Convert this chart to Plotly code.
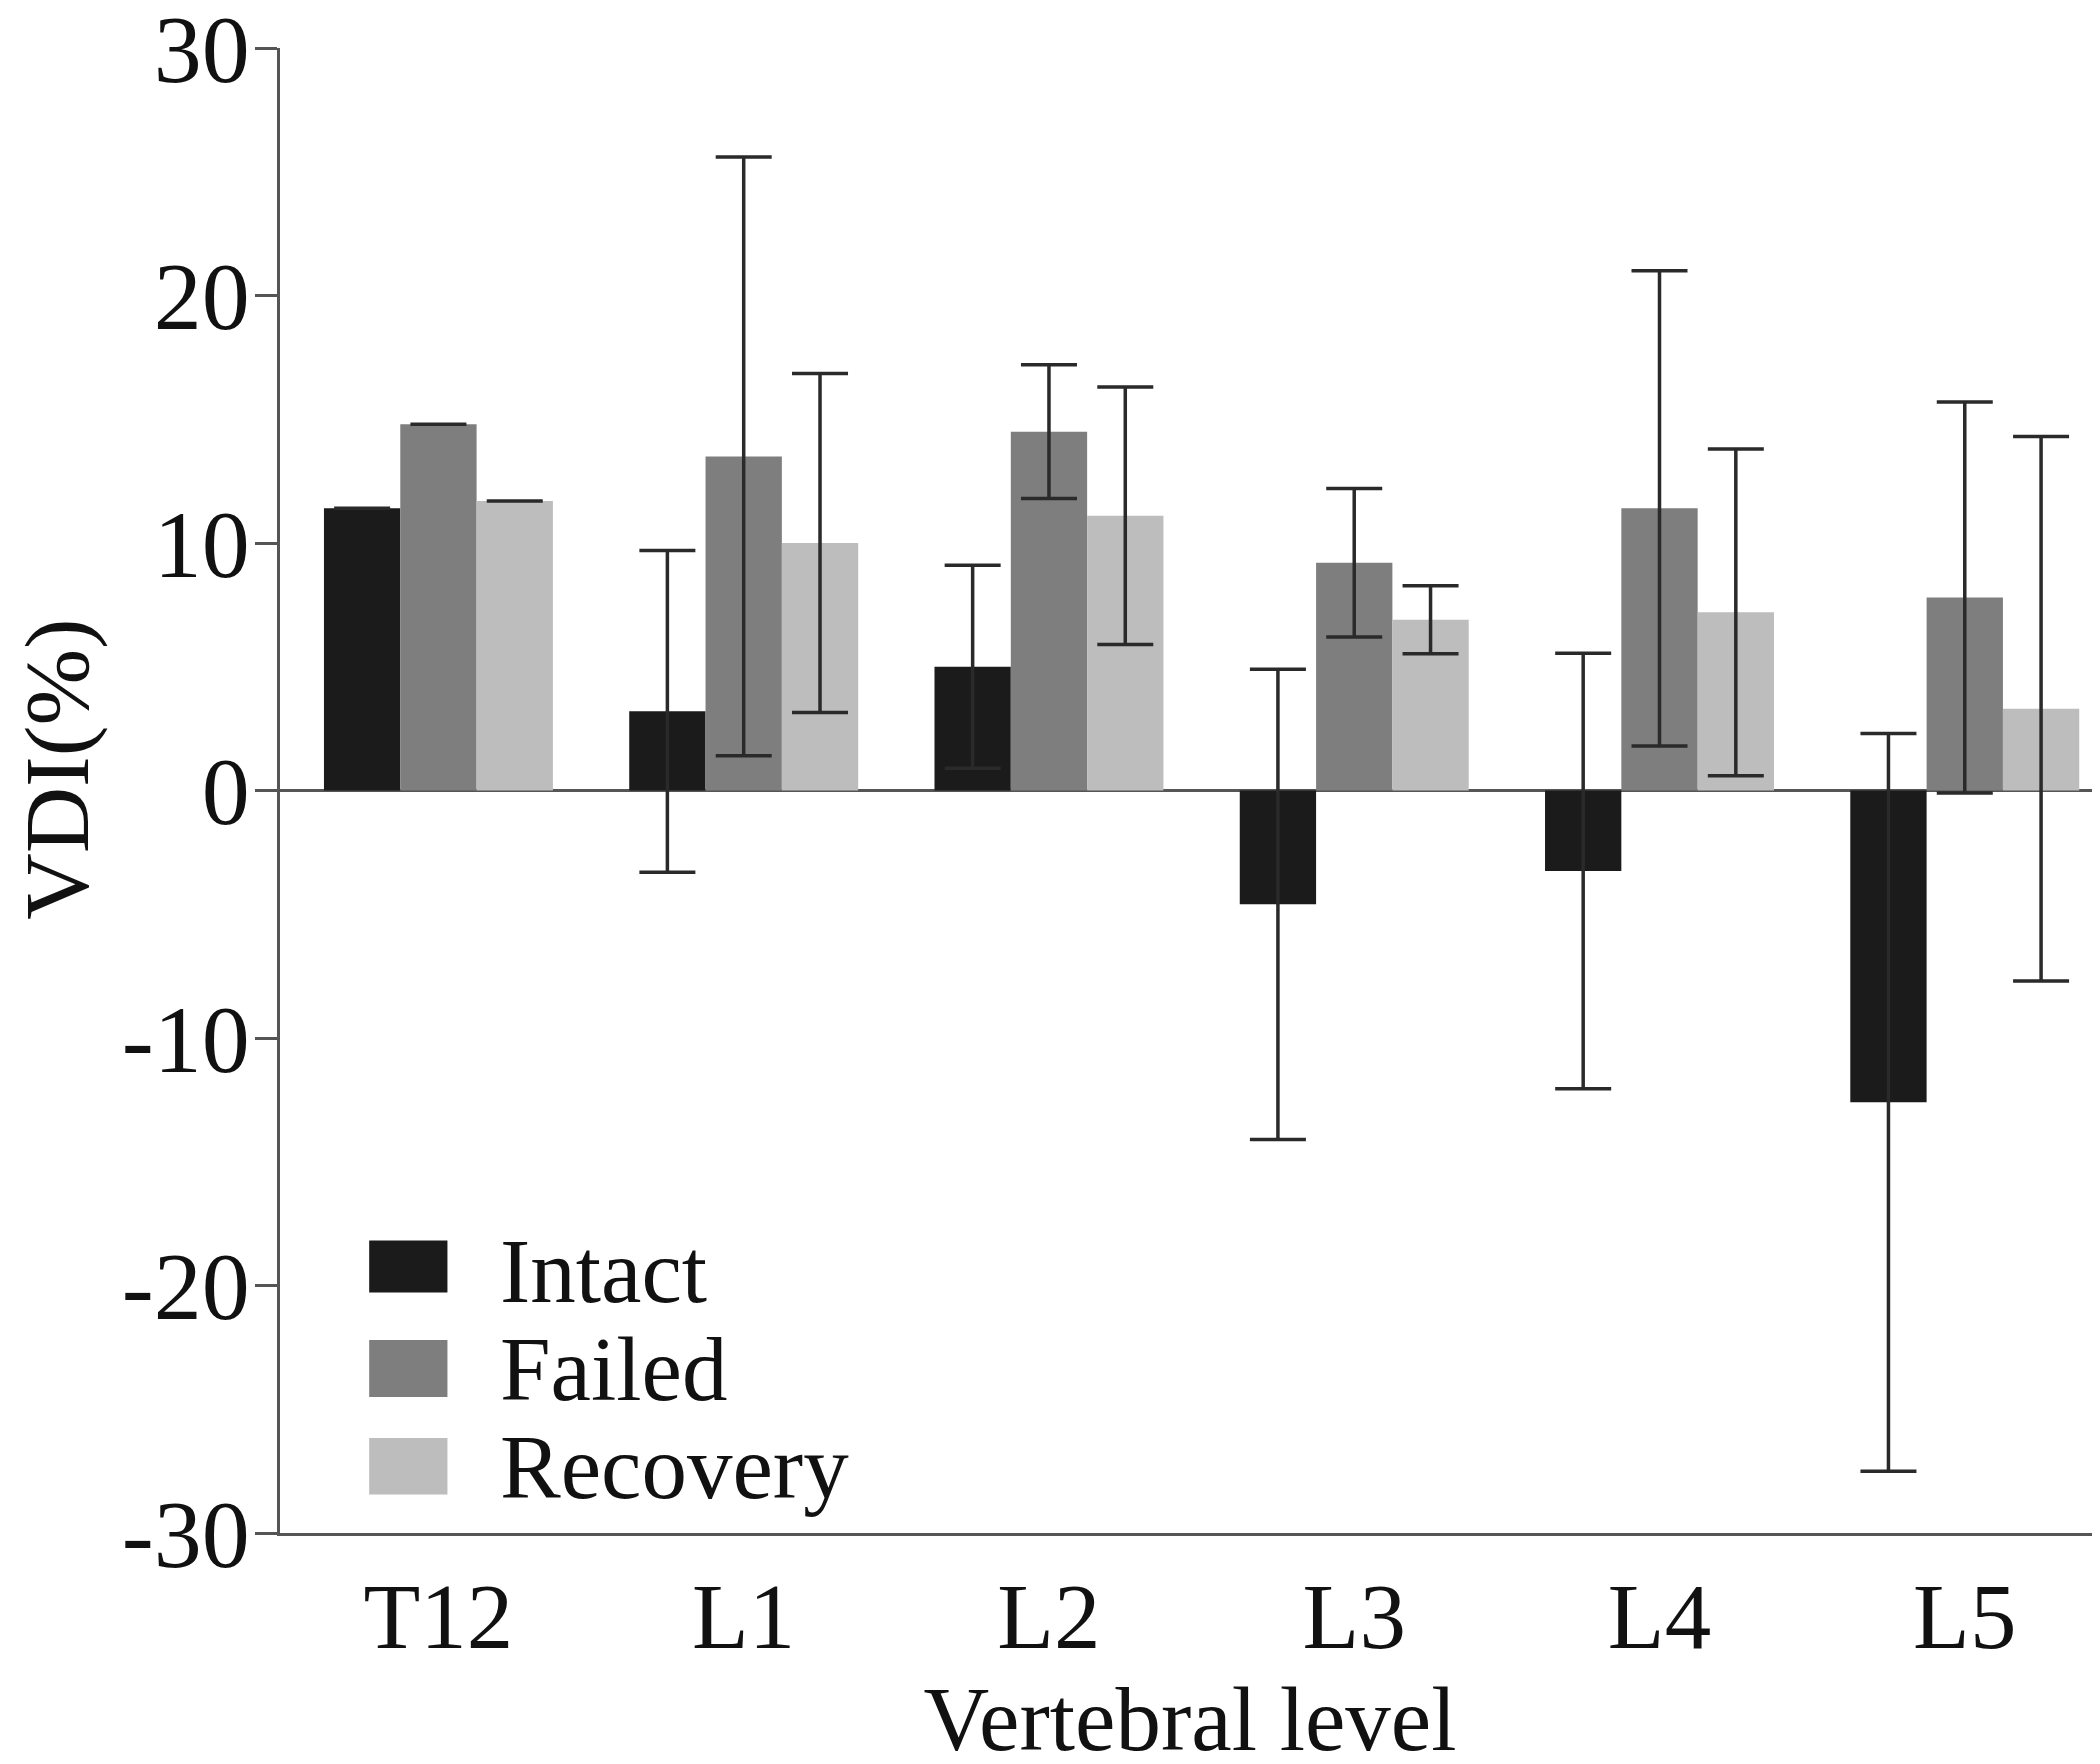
import plotly.graph_objects as go

levels = ["T12", "L1", "L2", "L3", "L4", "L5"]
intact = [11.4, 3.2, 5.0, -4.6, -3.25, -12.6]
intact_sd = [0.0, 6.5, 4.1, 9.5, 8.8, 14.9]
failed = [14.8, 13.5, 14.5, 9.2, 11.4, 7.8]
failed_sd = [0.0, 12.1, 2.7, 3.0, 9.6, 7.9]
recovery = [11.7, 10.0, 11.1, 6.9, 7.2, 3.3]
recovery_sd = [0.0, 6.85, 5.2, 1.37, 6.6, 11.0]

y_ticks = [-30, -20, -10, 0, 10, 20, 30]
y_tick_text = ["-30", "-20", "-10", "0", "10", "20", "30"]

series = [
    ("Intact", intact, intact_sd, "#1b1b1b"),
    ("Failed", failed, failed_sd, "#7e7e7e"),
    ("Recovery", recovery, recovery_sd, "#bdbdbd"),
]

FONT = "Liberation Serif"
fig = go.Figure()
for name, vals, sd, col in series:
    fig.add_trace(go.Bar(
        name=name, x=levels, y=vals,
        marker=dict(color=col, line=dict(width=0)),
        error_y=dict(type="data", array=sd, visible=True,
                     color="#2a2a2a", thickness=3.5, width=28),
        showlegend=False,
    ))

fig.update_layout(
    width=2100, height=1764,
    barmode="group", bargap=0.25, bargroupgap=0,
    plot_bgcolor="white", paper_bgcolor="white",
    margin=dict(l=272, r=8, t=40, b=239),
    font=dict(family=FONT, size=90, color="#111111"),
    xaxis=dict(
        range=[-0.519, 5.443], showline=True, linecolor="#555555", linewidth=3,
        ticks="", showgrid=False, zeroline=False, automargin=False,
        tickfont=dict(size=93),
        title=dict(text="Vertebral level", font=dict(size=91), standoff=20),
    ),
    yaxis=dict(
        range=[-30, 30], tickvals=y_ticks, ticktext=y_tick_text,
        ticklabeloverflow="allow", automargin=False, ticklabelstandoff=-14,
        showline=True, linecolor="#555555", linewidth=3,
        ticks="outside", ticklen=22, tickwidth=3, tickcolor="#555555",
        showgrid=False, zeroline=True, zerolinecolor="#555555", zerolinewidth=3,
        tickfont=dict(size=96),
    ),
)

# y-axis title placed as rotated text
fig.add_annotation(text="VDI(%)", xref="paper", yref="paper",
                   x=-0.1225, y=0.514, xanchor="center", yanchor="middle",
                   textangle=-90, showarrow=False,
                   font=dict(family=FONT, size=92, color="#111111"))

# manual legend with large swatches
legend_rows = [(0.197, 0.162, 0.176), (0.130, 0.0916, 0.110), (0.064, 0.026, 0.044)]
for (name, _, _, col), (ytop, ybot, ytxt) in zip(series, legend_rows):
    fig.add_shape(type="rect", xref="x domain", yref="y domain",
                  x0=0.049, x1=0.092, y0=ybot, y1=ytop,
                  fillcolor=col, line=dict(width=0), layer="above")
    fig.add_annotation(text=name, xref="x domain", yref="y domain",
                       x=0.120, y=ytxt, xanchor="left", yanchor="middle",
                       showarrow=False, font=dict(family=FONT, size=91, color="#111111"))

fig.write_html("out.html")
